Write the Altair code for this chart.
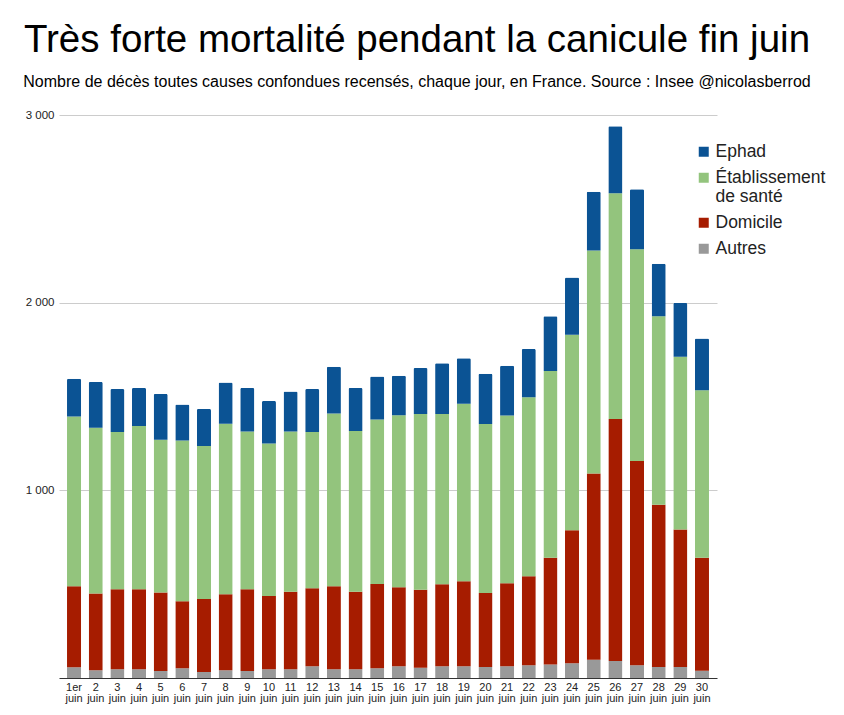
import altair as alt
import pandas as pd

days = ["1er juin"] + [f"{d} juin" for d in range(2, 31)]
categories = ["Ephad", "Établissement de santé", "Domicile", "Autres"]
colors = ["#0b5394", "#93c47d", "#a61c00", "#999999"]

autres = [57, 41, 46, 46, 37, 52, 32, 41, 37, 46, 46, 62, 46, 46, 52, 62, 54, 62, 62, 58,
          62, 68, 72, 78, 97, 91, 68, 58, 58, 39]
domicile = [432, 409, 427, 427, 418, 357, 389, 405, 436, 391, 414, 416, 443, 414, 449, 421,
            416, 437, 453, 395, 443, 474, 569, 709, 993, 1289, 1088, 865, 733, 602]
etablissement = [905, 884, 838, 870, 815, 856, 815, 909, 840, 813, 853, 833, 921, 856, 877,
                 917, 937, 908, 946, 900, 894, 954, 995, 1042, 1188, 1203, 1129, 1005, 921, 892]
ephad = [201, 243, 229, 202, 243, 192, 197, 219, 232, 226, 214, 229, 249, 229, 229, 211,
         245, 270, 243, 268, 265, 257, 292, 305, 313, 357, 319, 280, 286, 276]

series = {"Autres": autres, "Domicile": domicile,
          "Établissement de santé": etablissement, "Ephad": ephad}
stack_order = {"Autres": 0, "Domicile": 1, "Établissement de santé": 2, "Ephad": 3}

rows = []
for cat, vals in series.items():
    for d, v in zip(days, vals):
        rows.append({"jour": d, "lieu": cat, "deces": v, "ordre": stack_order[cat]})
df = pd.DataFrame(rows)

FONT = "Liberation Sans, Arial, sans-serif"

chart = alt.Chart(df).mark_bar(
    cornerRadiusTopLeft=1.5, cornerRadiusTopRight=1.5
).encode(
    x=alt.X("jour:N", sort=days, title=None,
            scale=alt.Scale(paddingInner=0.35, paddingOuter=0.37),
            axis=alt.Axis(labelAngle=0, labelExpr="split(datum.label, ' ')",
                          labelFontSize=11, labelColor="#222222", labelFont=FONT,
                          labelPadding=3, labelLineHeight=11, ticks=False,
                          domainColor="#333333", domainWidth=1, grid=False)),
    y=alt.Y("deces:Q", stack="zero", title=None,
            scale=alt.Scale(domain=[0, 3000], nice=False),
            axis=alt.Axis(values=[1000, 2000, 3000],
                          labelExpr="replace(format(datum.value, ','), ',', ' ')",
                          labelFontSize=11.5, labelColor="#222222", labelFont=FONT,
                          labelPadding=5, ticks=False, domain=False,
                          gridColor="#cccccc", gridWidth=1)),
    color=alt.Color("lieu:N", scale=alt.Scale(domain=categories, range=colors),
                    legend=alt.Legend(title=None, orient="none", legendX=636, legendY=28,
                                      symbolType="square", symbolSize=100,
                                      symbolStrokeWidth=0, labelFontSize=17.5,
                                      labelFont=FONT, labelColor="#222222",
                                      labelExpr="datum.label == 'Établissement de santé' ? ['Établissement', 'de santé'] : datum.label",
                                      labelBaseline="middle", labelOffset=3,
                                      rowPadding=7, padding=0, labelLimit=200)),
    order=alt.Order("ordre:Q", sort="ascending"),
    tooltip=["jour", "lieu", "deces"],
).properties(
    width=658, height=563,
    padding={"left": 51, "top": 107, "right": 119, "bottom": 28},
    autosize=alt.AutoSizeParams(type="none"),
    title=alt.TitleParams(
        text="Très forte mortalité pendant la canicule fin juin",
        subtitle="Nombre de décès toutes causes confondues recensés, chaque jour, en France. Source : Insee @nicolasberrod",
        anchor="middle", dx=29, offset=18, font=FONT, fontSize=38.5, fontWeight="normal",
        color="#000000", subtitleFont=FONT, subtitleFontSize=16, subtitleColor="#000000",
        subtitlePadding=14,
    ),
).configure_view(stroke=None)

chart.save("out.html", embed_options={"renderer": "svg", "actions": False})
